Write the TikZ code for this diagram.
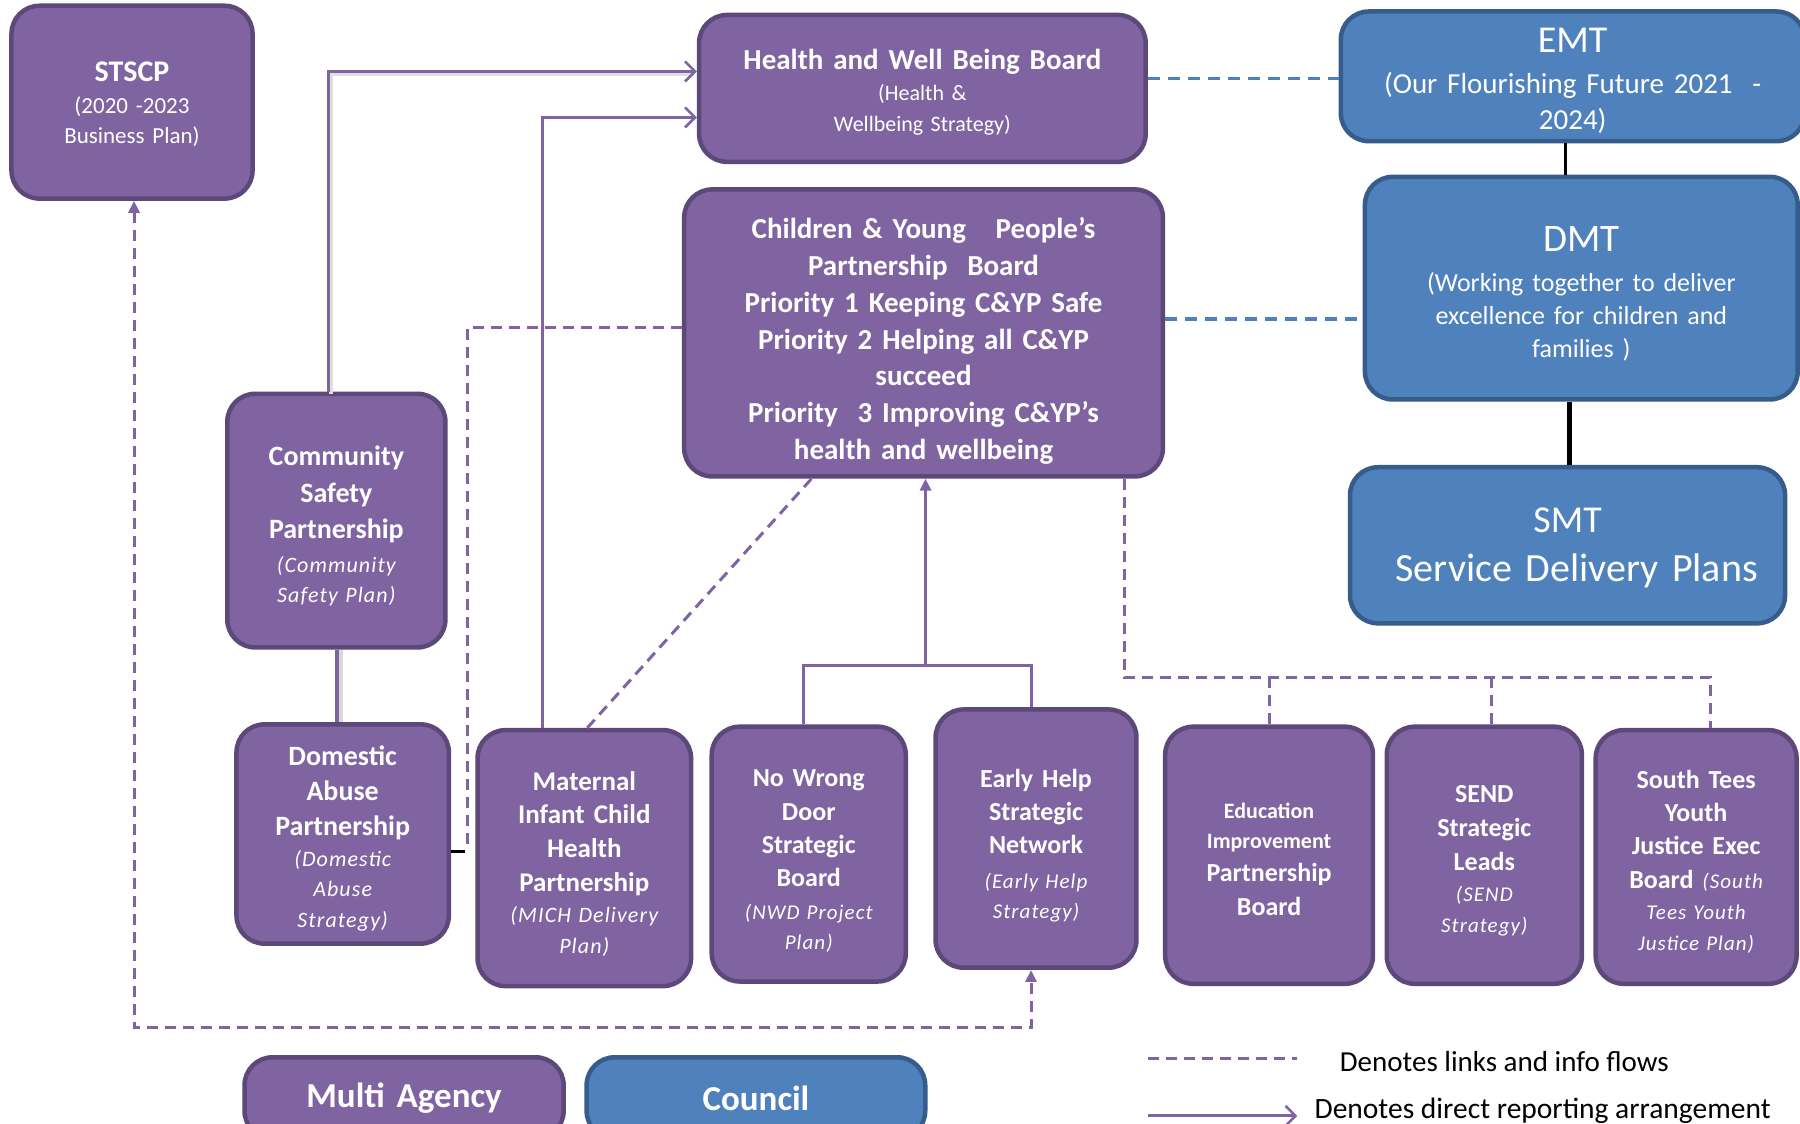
\documentclass[tikz,border=0pt]{standalone}
\usepackage{fontspec}
\setmainfont{Carlito}
\usetikzlibrary{arrows.meta,calc}
\definecolor{pfill}{RGB}{128,100,162}
\definecolor{pdraw}{RGB}{93,72,122}
\definecolor{bfill}{RGB}{79,129,189}
\definecolor{bdraw}{RGB}{54,92,140}
\definecolor{pline}{RGB}{128,100,162}
\definecolor{bline}{RGB}{79,129,189}
\newcommand\fs[2]{\fontsize{#1}{#2}\selectfont\spaceskip=0.34em\xspaceskip=0.34em\relax}
\newcommand\itl{\itshape\addfontfeatures{LetterSpace=5}}
\newcommand\mkbox[8]{%
  \pgfmathsetmacro\bw{(#4-#2)*1.148}%
  \pgfmathsetmacro\bh{(#5-#3)*1.148}%
  \pgfmathsetmacro\tw{\bw-14}%
  \node[#6, minimum width=\bw pt, minimum height=\bh pt, text width=\tw pt] (#1) at ({(#2+#4)/2},{(#3+#5)/2}) {#7\par\vspace*{-#8}};}
\tikzset{
  pbox/.style={draw=pdraw, fill=pfill, line width=4.5pt, rounded corners=28pt, text=white, align=center, inner sep=0pt},
  bbox/.style={draw=bdraw, fill=bfill, line width=4.5pt, rounded corners=28pt, text=white, align=center, inner sep=0pt},
  rep/.style={draw=pline, line width=3pt, -{Straight Barb[length=10pt,width=20pt,line width=2.5pt]}},
  pl/.style={draw=pline, line width=3pt},
  pdash/.style={draw=pline, line width=3pt, dash pattern=on 11pt off 7pt},
  bdash/.style={draw=bline, line width=3.5pt, dash pattern=on 12pt off 8pt},
  tri/.style={-{Triangle[length=12pt,width=11pt]}},
  tritri/.style={{Triangle[length=12pt,width=11pt]}-{Triangle[length=12pt,width=11pt]}},
}
\begin{document}
\begin{tikzpicture}[x=1.148pt,y=-1.148pt]
\useasboundingbox (0,0) rectangle (1568,979);
\clip (0,0) rectangle (1568,979);
\fill[white] (0,0) rectangle (1568,979);

\mkbox{stscp}{10}{5}{220}{173}{pbox}{{\fs{30}{36}\bfseries STSCP\par}\vspace{2.3pt}{\fs{23}{30}(2020 -2023\\Business Plan)\par}}{4.6pt}
\mkbox{hwb}{609}{13}{998}{141}{pbox}{{\fs{29}{34}\bfseries Health and Well Being Board\par}{\fs{22}{31}(Health \&\\Wellbeing Strategy)\par}}{8.6pt}
\mkbox{emt}{1168}{10}{1572}{123}{bbox}{{\fs{38}{42}EMT\par}\vspace{4.6pt}{\fs{29}{36}(Our Flourishing Future 2021 ~-\\2024)\par}}{9.2pt}
\mkbox{dmt}{1189}{154}{1566}{348}{bbox}{{\fs{39}{44}DMT\par}\vspace{7pt}{\fs{26}{33}(Working together to deliver\\excellence for children and\\families )\par}}{11.5pt}
\mkbox{smt}{1176}{407}{1555}{543}{bbox}{{\fs{38}{49}SMT\\\fs{40}{49}\hspace*{18pt}Service Delivery Plans\par}}{4.6pt}
\mkbox{cyp}{596}{165}{1013}{415}{pbox}{{\fs{29}{36.7}\bfseries Children \& Young\ \ \ People’s\\Partnership\ \ Board\\Priority 1 Keeping C\&YP Safe\\Priority 2 Helping all C\&YP\\succeed\\Priority\ \ 3 Improving C\&YP’s\\health and wellbeing\par}}{16pt}
\mkbox{csp}{198}{343}{388}{564}{pbox}{{\fs{28}{36.5}\bfseries Community\\Safety\\Partnership\par}\vspace{3.4pt}{\fs{22}{30}\itl (Community\\Safety Plan)\par}}{10.3pt}
\mkbox{dap}{206}{631}{391}{822}{pbox}{{\fs{28}{35}\bfseries Domestic\\Abuse\\Partnership\par}{\fs{22}{30.5}\itl (Domestic\\Abuse\\Strategy)\par}}{9.2pt}
\mkbox{mich}{416}{636}{602}{859}{pbox}{{\fs{27}{33.7}\bfseries Maternal\\Infant Child\\Health\\Partnership\par}{\fs{22}{31}\itl (MICH Delivery\\Plan)\par}}{11.5pt}
\mkbox{nwd}{620}{633}{789}{855}{pbox}{{\fs{26}{33.3}\bfseries No Wrong\\Door\\Strategic\\Board\par}\vspace{2.3pt}{\fs{21}{30}\itl (NWD Project\\Plan)\par}}{13.8pt}
\mkbox{eh}{815}{618}{990}{843}{pbox}{{\fs{26}{33.3}\bfseries Early Help\\Strategic\\Network\par}\vspace{4.6pt}{\fs{21}{30}\itl (Early Help\\Strategy)\par}}{13.8pt}
\mkbox{eipb}{1015}{633}{1196}{857}{pbox}{{\fs{22}{30}\bfseries Education\\Improvement\par}{\fs{26}{33.3}\bfseries Partnership\\Board\par}}{8pt}
\mkbox{send}{1208}{633}{1378}{857}{pbox}{{\fs{26}{34}\bfseries SEND\\Strategic\\Leads\par}{\fs{21}{31}\itl (SEND\\Strategy)\par}}{11.5pt}
\mkbox{styj}{1390}{636}{1565}{857}{pbox}{{\fs{26}{33.3}\bfseries South Tees\\Youth\\Justice Exec\\Board {\mdseries\fs{21}{33.3}\itl (South}\par}{\fs{21}{31}\itl Tees Youth\\Justice Plan)\par}}{9.2pt}
\mkbox{multi}{213}{921}{491}{992}{pbox}{{\fs{35}{40}\bfseries Multi Agency\par}}{0pt}
\mkbox{council}{511}{921}{806}{992}{bbox}{{\fs{35}{40}\bfseries Council\par}}{0pt}

% reporting lines to HWB
\coordinate (hwbA) at ([yshift=17pt]hwb.west);
\coordinate (hwbB) at ([yshift=-29pt]hwb.west);
\draw[gray!25, line width=4pt] ([xshift=-5.5pt,yshift=-2.5pt]csp.north) |- ([xshift=-4pt,yshift=-2.5pt]hwbA);
\draw[rep] ([xshift=-8pt]csp.north) |- (hwbA);
\draw[rep] ([xshift=-42pt]mich.north) |- (hwbB);
% CSP - DAP
\draw[gray!30, line width=7pt] ([xshift=3pt]csp.south) -- ([xshift=3pt]csp.south |- dap.north);
\draw[pline, line width=4pt] ([xshift=1pt]csp.south) -- ([xshift=1pt]csp.south |- dap.north);
% dashed C&YP to DAP
\coordinate (dapE) at ([yshift=-17pt]dap.east);
\draw[pdash] ([yshift=5pt]cyp.west) -| ([xshift=16pt]dapE);
\draw[black, line width=3pt] (dapE) -- ([xshift=14pt]dapE);
% diagonal dashed
\draw[pdash] ([xshift=3pt]mich.north) -- ([xshift=-112pt]cyp.south);
% NWD & EH up to C&YP
\coordinate (jy) at (0,580);
\coordinate (nwdT) at ([xshift=-5pt]nwd.north);
\coordinate (ehT) at ([xshift=-5pt]eh.north);
\coordinate (cypB) at ([xshift=2pt]cyp.south);
\draw[pl] (nwdT) |- (ehT |- jy) -- (ehT);
\draw[pl, tri] (cypB |- jy) -- (cypB);
% dashed C&YP to council boards
\coordinate (dy) at (0,590);
\coordinate (cypBR) at ([xshift=201pt]cyp.south);
\coordinate (sendT) at ([xshift=7pt]send.north);
\coordinate (styjT) at ([xshift=14pt]styj.north);
\draw[pdash] (cypBR) |- (styjT |- dy) -- (styjT);
\draw[pdash] (eipb.north |- dy) -- (eipb.north);
\draw[pdash] (sendT |- dy) -- (sendT);
% dashed STSCP <-> EH
\coordinate (by) at (0,895);
\coordinate (ehS) at ([xshift=-5pt]eh.south);
\draw[pdash, tritri] ([xshift=2pt]stscp.south) |- (ehS |- by) -- (ehS);
% blue dashed links
\draw[bdash] ([yshift=10pt]hwb.east) -- ([yshift=10pt]hwb.east -| emt.west);
\draw[bdash] ([yshift=14pt]cyp.east) -- ([yshift=14pt]cyp.east -| dmt.west);
% council hierarchy
\draw[black, line width=3pt] ([xshift=-7pt]emt.south) -- ([xshift=-7pt]emt.south |- dmt.north);
\draw[black, line width=5pt] ([xshift=-12pt]dmt.south) -- ([xshift=-12pt]dmt.south |- smt.north);

% legend
\coordinate (l1a) at (1000,922);
\coordinate (l1b) at (1130,922);
\coordinate (l2a) at (1000,972);
\coordinate (l2b) at (1130,972);
\draw[pdash] (l1a) -- (l1b);
\draw[rep] (l2a) -- (l2b);
\node[anchor=west, inner sep=0pt, font=\fontsize{29}{34}\selectfont] (leg1) at (1167,925) {Denotes links and info flows};
\node[anchor=west, inner sep=0pt, font=\fontsize{29.5}{34}\selectfont] (leg2) at (1145,968) {Denotes direct reporting arrangement};
\end{tikzpicture}
\end{document}
